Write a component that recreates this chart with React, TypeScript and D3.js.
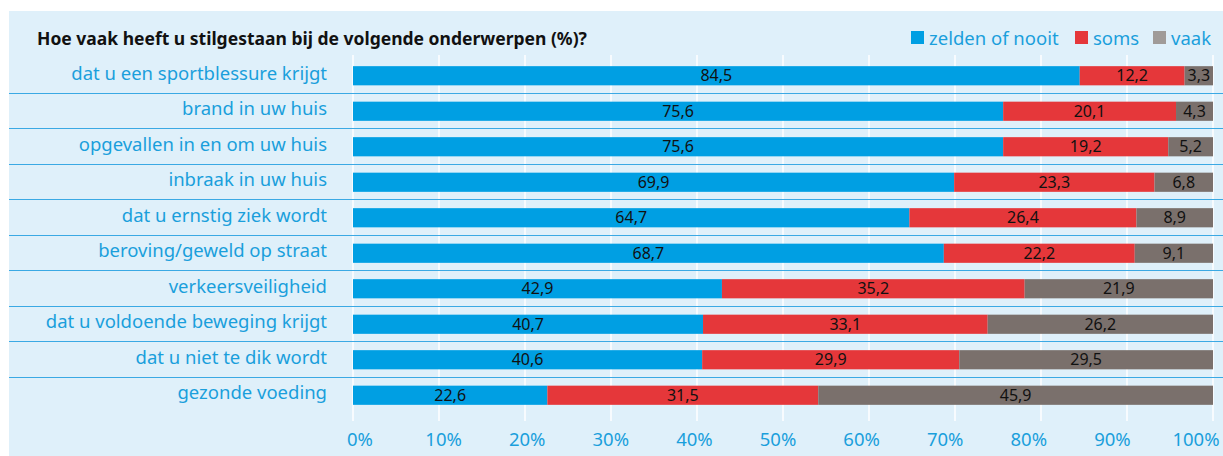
import * as d3 from 'd3';

const categories = [
  'dat u een sportblessure krijgt',
  'brand in uw huis',
  'opgevallen in en om uw huis',
  'inbraak in uw huis',
  'dat u ernstig ziek wordt',
  'beroving/geweld op straat',
  'verkeersveiligheid',
  'dat u voldoende beweging krijgt',
  'dat u niet te dik wordt',
  'gezonde voeding',
];
const zelden = [84.5, 75.6, 75.6, 69.9, 64.7, 68.7, 42.9, 40.7, 40.6, 22.6];
const soms = [12.2, 20.1, 19.2, 23.3, 26.4, 22.2, 35.2, 33.1, 29.9, 31.5];
const vaak = [3.3, 4.3, 5.2, 6.8, 8.9, 9.1, 21.9, 26.2, 29.5, 45.9];
const seriesNames = ['zelden of nooit', 'soms', 'vaak'];
const ticks = [0, 10, 20, 30, 40, 50, 60, 70, 80, 90, 100];

const colors = ['#009fe3', '#e5373a', '#7a706c'];
const legendColors = ['#009fe3', '#e5373a', '#a09b98'];
const W = 1223;
const H = 456;
const FONT = '"Noto Sans", sans-serif';

export default function App() {
  const x = d3.scaleLinear().domain([0, 100]).range([353, 1213]);
  const tickX = d3.scaleLinear().domain([0, 100]).range([360, 1196]);
  const y = d3.scaleBand<number>().domain(d3.range(categories.length)).range([58, 413]).paddingInner(0.46).paddingOuter(0.23);

  const rows = categories.map((c, i) => ({ c, i, values: [zelden[i], soms[i], vaak[i]] }));
  const stack = d3.stack<{ c: string; i: number; values: number[] }, number>()
    .keys([0, 1, 2])
    .value((d, k) => d.values[k]);
  const layers = stack(rows);

  const step = y.step();
  const fmt = (v: number) => v.toFixed(1).replace('.', ',');

  return (
    <svg width={W} height={H} style={{ position: 'absolute', left: 0, top: 0 }} fontFamily={FONT}>
      <rect x={0} y={0} width={W} height={H} fill="#fff" />
      <rect x={9} y={11} width={W - 9} height={H - 11} fill="#dff0fa" />
      <text x={37} y={45} fontSize={17.5} fontWeight="bold" fill="#111">
        Hoe vaak heeft u stilgestaan bij de volgende onderwerpen (%)?
      </text>
      {/* legend */}
      {(() => {
        const pos = [911, 1075, 1153];
        return seriesNames.map((n, k) => (
          <g key={n}>
            <rect x={pos[k]} y={31} width={13} height={13} fill={legendColors[k]} />
            <text x={pos[k] + 18} y={45} fontSize={18.5} fill="#1a9fdc">{n}</text>
          </g>
        ));
      })()}
      {/* gridlines */}
      {ticks.map(t => (
        <line key={t} x1={x(t)} x2={x(t)} y1={55} y2={421} stroke="#fff" strokeWidth={1.5} />
      ))}
      {/* row separators */}
      {d3.range(1, categories.length).map(i => {
        const yy = Math.round((y(i) as number) - (step - y.bandwidth()) / 2) - 0.5;
        return <line key={i} x1={9} x2={W} y1={yy} y2={yy} stroke="#3aa9e4" strokeWidth={1.2} />;
      })}
      {/* bars */}
      {layers.map((layer, k) => (
        <g key={k}>
          {layer.map((d, i) => (
            <g key={i}>
              <rect
                x={x(d[0])}
                y={y(i)}
                width={x(d[1]) - x(d[0])}
                height={y.bandwidth()}
                fill={colors[k]}
              />
              <text
                x={(x(d[0]) + x(d[1])) / 2}
                y={(y(i) as number) + y.bandwidth() / 2 + 1}
                textAnchor="middle"
                dominantBaseline="middle"
                fontSize={16}
                fill="#111"
              >
                {fmt(rows[i].values[k])}
              </text>
            </g>
          ))}
        </g>
      ))}
      {/* category labels */}
      {categories.map((c, i) => (
        <text
          key={c}
          x={327}
          y={(y(i) as number) + y.bandwidth() / 2 - 1}
          textAnchor="end"
          dominantBaseline="middle"
          fontSize={18.5}
          fill="#1a9fdc"
        >
          {c}
        </text>
      ))}
      {/* tick labels */}
      {ticks.map(t => (
        <text key={t} x={tickX(t)} y={446} textAnchor="middle" fontSize={18.5} fill="#1a9fdc">
          {t}%
        </text>
      ))}
    </svg>
  );
}
